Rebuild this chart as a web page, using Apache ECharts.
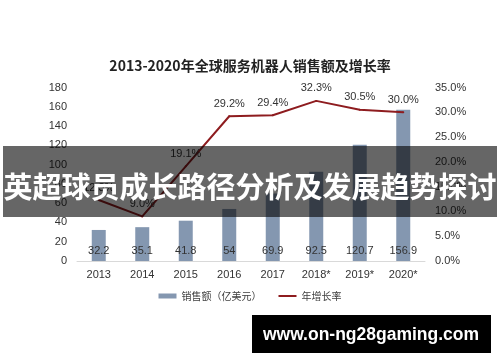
<!DOCTYPE html>
<html><head><meta charset="utf-8">
<script src="https://cdn.jsdelivr.net/npm/echarts@6/dist/echarts.min.js"></script>
<style>html,body{margin:0;padding:0;background:#fff}#c{width:500px;height:362px}</style>
</head><body><div id="c"></div>
<script>
const categories = ['2013','2014','2015','2016','2017','2018*','2019*','2020*'];
const sales = [32.2, 35.1, 41.8, 54, 69.9, 92.5, 120.7, 156.9];
const growth = [12.3, 9.0, 19.1, 29.2, 29.4, 32.3, 30.5, 30.0];
const titleText = '2013-2020年全球服务机器人销售额及增长率';
const bannerText = '英超球员成长路径分析及发展趋势探讨';
const watermarkText = 'www.on-ng28gaming.com';
const seriesNames = ['销售额（亿美元）', '年增长率'];

const FONT = '"Liberation Sans","Noto Sans CJK SC",sans-serif';
const chart = echarts.init(document.getElementById('c'));
chart.setOption({
  animation: false,
  textStyle: {fontFamily: FONT},
  title: {text: titleText, left: 'center', top: 54,
    textStyle: {fontSize: 14, fontWeight: 'bold', color: '#222', fontFamily: '"Noto Sans CJK SC",sans-serif'}},
  legend: {bottom: 56, left: 'center', itemWidth: 18, itemHeight: 5, itemGap: 16,
    textStyle: {fontSize: 10, color: '#404040', fontFamily: '"Noto Sans CJK SC",sans-serif'},
    data: [{name: seriesNames[0], icon: 'rect'}, {name: seriesNames[1], itemStyle: {opacity: 0}}]},
  grid: {left: 77, right: 75, top: 87.5, bottom: 101},
  xAxis: {type: 'category', data: categories,
    axisLine: {lineStyle: {color: '#d9d9d9', width: 1}}, axisTick: {show: false},
    axisLabel: {color: '#333', fontSize: 11, margin: 8}},
  yAxis: [
    {type: 'value', min: 0, max: 180, interval: 20, splitLine: {show: false},
      axisLine: {show: false}, axisTick: {show: false},
      axisLabel: {color: '#333', fontSize: 11, margin: 10}},
    {type: 'value', min: 0, max: 35, interval: 5, splitLine: {show: false},
      axisLine: {show: false}, axisTick: {show: false},
      axisLabel: {color: '#333', fontSize: 11, margin: 10, formatter: v => v.toFixed(1) + '%'}}
  ],
  series: [
    {name: seriesNames[0], type: 'bar', data: sales, barWidth: 14,
      itemStyle: {color: '#8497B0'},
      label: {show: true, position: 'insideBottom', distance: 5, color: '#333', fontSize: 11}},
    {name: seriesNames[1], type: 'line', yAxisIndex: 1, data: growth, symbol: 'circle', symbolSize: 2, showSymbol: true,
      lineStyle: {color: '#8E1C1F', width: 2}, itemStyle: {color: '#8E1C1F', borderWidth: 0},
      label: {show: true, position: 'top', distance: 6, color: '#333', fontSize: 11, opacity: 1,
        formatter: p => p.value.toFixed(1) + '%'}}
  ],
  graphic: [
    {type: 'rect', shape: {x: 3, y: 146, width: 494, height: 71}, style: {fill: 'rgba(0,0,0,0.6)'}, z: 100},
    {type: 'text', x: 250, y: 187, z: 101, style: {text: bannerText, fill: '#fff', fontSize: 29, fontWeight: 'bold',
      fontFamily: '"Noto Sans CJK SC",sans-serif', align: 'center', verticalAlign: 'middle'}},
    {type: 'rect', shape: {x: 252, y: 315, width: 239, height: 38}, style: {fill: '#000'}, z: 100},
    {type: 'text', x: 371, y: 335, z: 101, style: {text: watermarkText, fill: '#fff', fontSize: 17.5, fontWeight: 'bold',
      fontFamily: '"Liberation Sans",sans-serif', align: 'center', verticalAlign: 'middle'}}
  ]
});
</script></body></html>
